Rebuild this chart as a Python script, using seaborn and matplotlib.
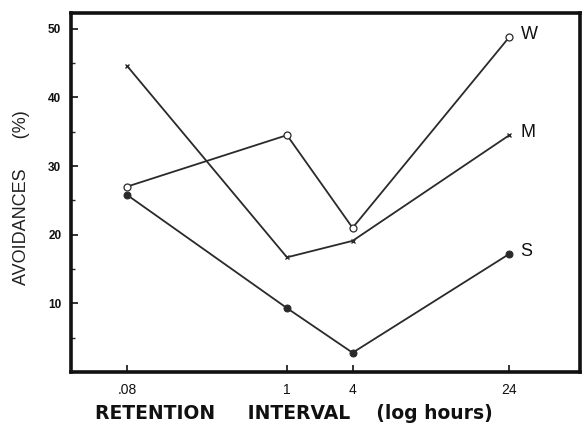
import matplotlib
matplotlib.use("Agg")
import matplotlib.pyplot as plt
import seaborn as sns
import pandas as pd

# data
intervals = [".08", "1", "4", "24"]
x_pos = [0.0, 1.0, 1.41, 2.39]          # axis positions of the intervals (log-like spacing as printed)
w_vals = [27.0, 34.5, 21.0, 48.8]
m_vals = [44.6, 16.7, 19.1, 34.5]
s_vals = [25.8, 9.3, 2.8, 17.2]
series_names = ["W", "M", "S"]

sns.set_style("white")
plt.rcParams['font.family'] = ['Liberation Sans', 'DejaVu Sans']

fig = plt.figure(figsize=(5.85, 4.33), dpi=100)
ax = fig.add_axes([0.1214, 0.141, 0.8696, 0.829])

df = pd.DataFrame({
    "pos": x_pos * 3,
    "val": w_vals + m_vals + s_vals,
    "series": [n for n in series_names for _ in x_pos],
})

line_col = "#2a2a2a"
styles = {
    "W": dict(marker="o", markersize=5, markerfacecolor="white", markeredgecolor=line_col, markeredgewidth=0.9),
    "M": dict(marker="x", markersize=3.5, markeredgecolor=line_col, markeredgewidth=1.0),
    "S": dict(marker="o", markersize=5, markerfacecolor=line_col, markeredgecolor=line_col),
}
for name in series_names:
    sub = df[df["series"] == name]
    sns.lineplot(data=sub, x="pos", y="val", ax=ax, color=line_col, linewidth=1.3,
                 estimator=None, sort=False, legend=False, **styles[name])
    last = sub.iloc[-1]
    ax.annotate(name, (last["pos"], last["val"]), xytext=(8, 2), textcoords="offset points",
                fontsize=13, ha="left", va="center", color="#111")

ax.set_xlim(-0.35, 2.83)
ax.set_ylim(0, 52.3)
ax.set_xticks(x_pos)
ax.set_xticklabels(intervals)
ax.set_yticks([10, 20, 30, 40, 50])
ax.set_yticks([5, 15, 25, 35, 45], minor=True)
ax.tick_params(axis="both", which="major", direction="in", length=5, width=1.2,
               labelsize=8.5, colors="#111", left=True, bottom=True)
ax.tick_params(axis="y", which="minor", direction="in", length=3, width=1.0, left=True)
ax.tick_params(axis="y", pad=7)
ax.tick_params(axis="x", pad=8, labelsize=10)
for lab in ax.get_yticklabels():
    lab.set_fontweight("bold")

for sp in ax.spines.values():
    sp.set_linewidth(2.6)
    sp.set_color("#111")

ax.set_xlabel("RETENTION     INTERVAL    (log hours)", fontsize=13.5, color="#111",
              fontweight="bold", family=["DejaVu Sans"])
ax.xaxis.set_label_coords(0.438, -0.088)
ax.set_ylabel("AVOIDANCES      (%)", fontsize=13, color="#222")
ax.yaxis.set_label_coords(-0.08, 0.485)

fig.savefig("out.png", dpi=100)
